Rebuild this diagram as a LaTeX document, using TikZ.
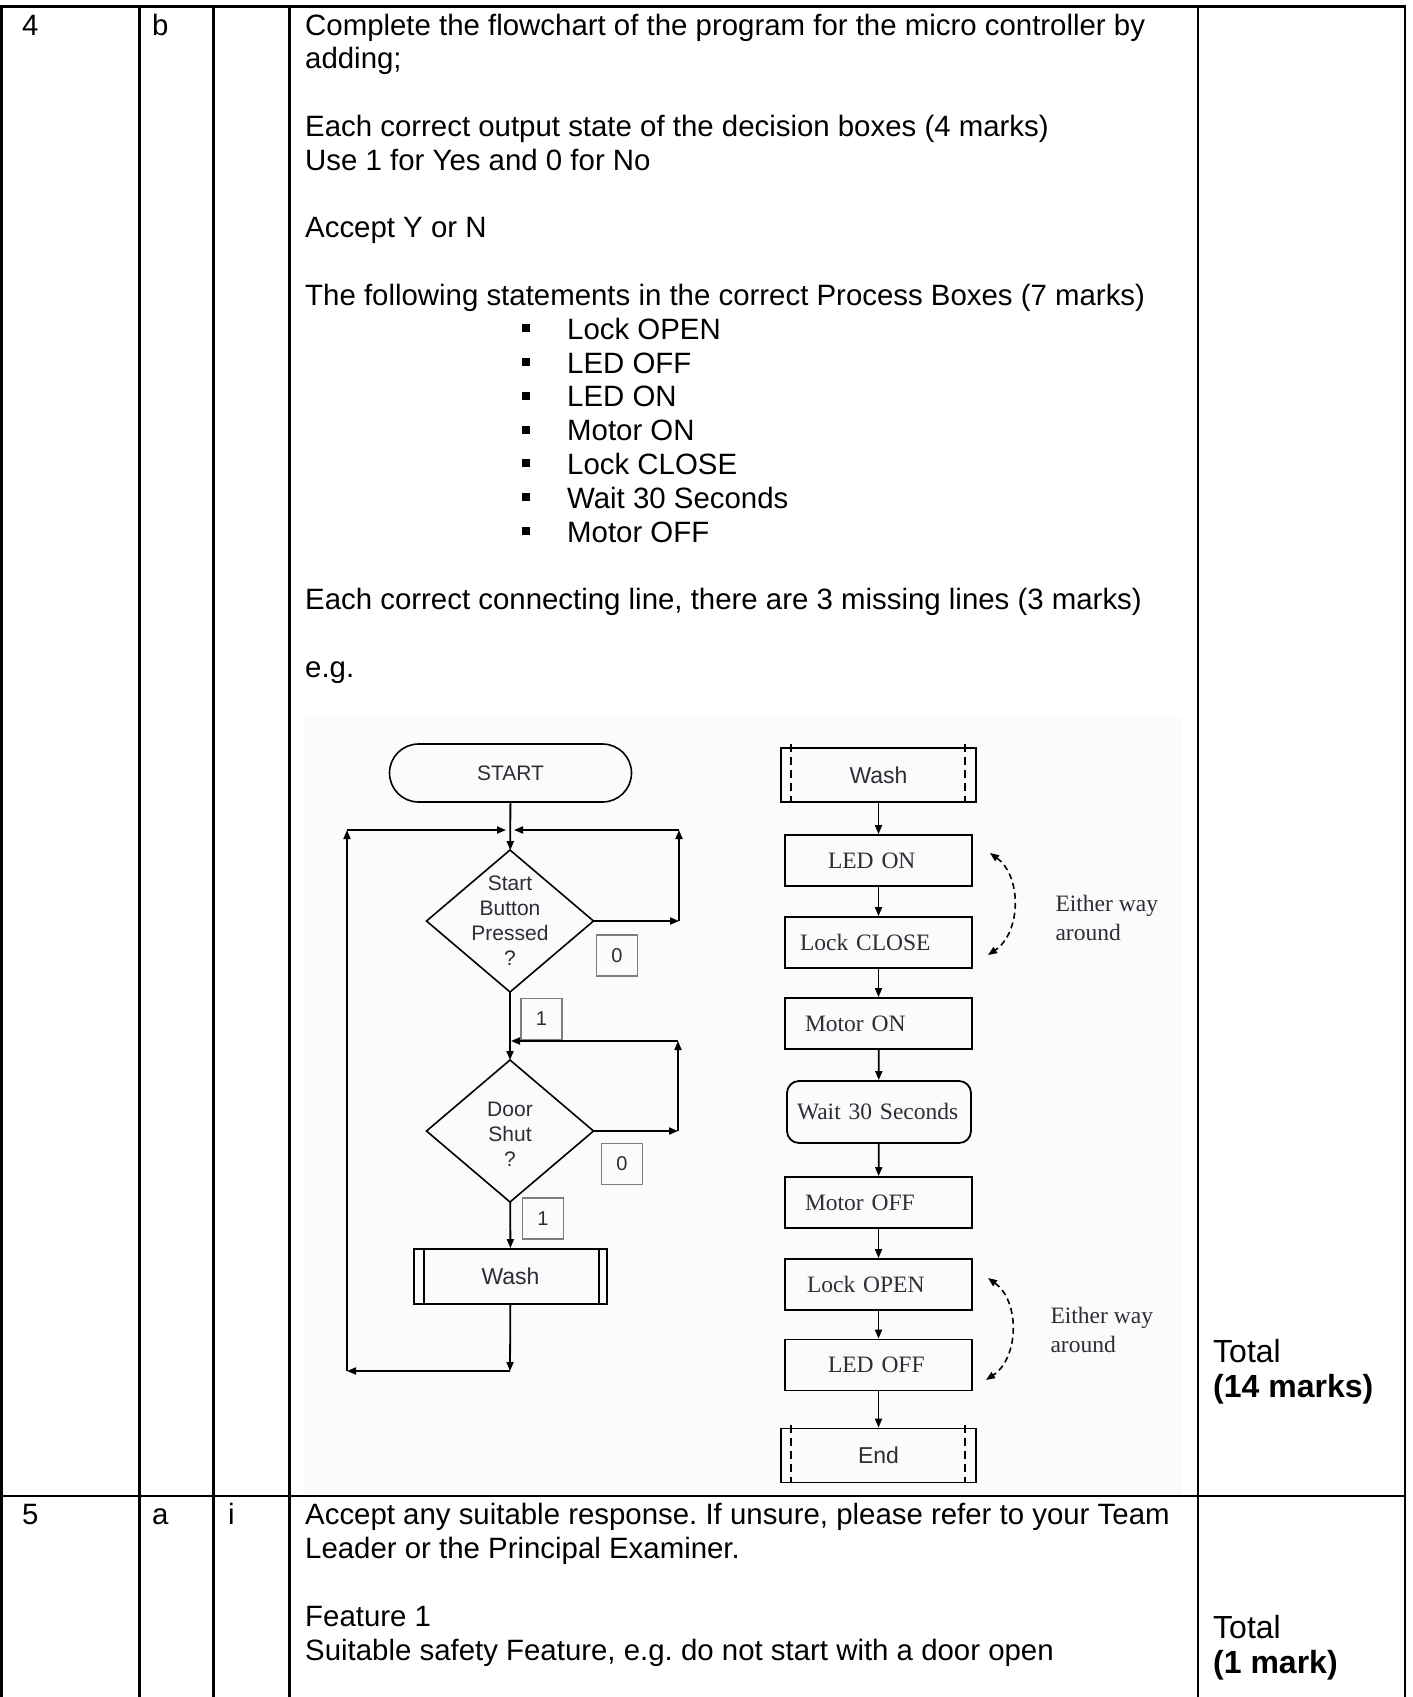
\documentclass[tikz,border=0pt]{standalone}
\usepackage{fontspec}
\setmainfont{Liberation Sans}
\newfontfamily\timesfont{Liberation Serif}
\usetikzlibrary{shapes.geometric, arrows.meta}
\frenchspacing

\definecolor{panelbg}{RGB}{250,251,250}
\definecolor{inkgray}{RGB}{45,45,55}
\definecolor{tagline}{RGB}{125,125,125}

\tikzset{
  tablerule/.style={line width=2.5pt},
  body/.style={anchor=base west, inner sep=0pt, font=\fontsize{29.4}{34}\selectfont},
  totals/.style={anchor=base west, inner sep=0pt, font=\fontsize{32}{34}\selectfont},
  flow/.style={line width=1.8pt, -{Triangle[length=9pt,width=7pt]}},
  either/.style={line width=1.6pt, dash pattern=on 6pt off 4pt, {Triangle[length=9pt,width=7pt]}-{Triangle[length=9pt,width=7pt]}},
  terminal/.style={draw, line width=1.6pt, rounded corners=29pt, minimum width=242pt, minimum height=58pt,
    text=inkgray, font=\fontsize{21}{24}\selectfont},
  decision/.style={diamond, draw, line width=1.6pt, minimum width=167pt, minimum height=142pt, inner sep=0pt, outer sep=0pt},
  dtext/.style={align=center, text=inkgray, font=\fontsize{21}{25}\selectfont},
  tag/.style={draw=tagline, line width=1.6pt, minimum width=41pt, minimum height=41pt, inner sep=0pt,
    text=inkgray, font=\fontsize{20}{24}\selectfont},
  subproc/.style={draw, line width=1.8pt, minimum width=193pt, minimum height=55pt, text=inkgray,
    font=\fontsize{23}{26}\selectfont},
  endbox/.style={draw, line width=1.8pt, minimum width=195pt, minimum height=54pt, text=inkgray,
    font=\fontsize{23}{26}\selectfont},
  proc/.style={draw, line width=1.8pt, text width=167pt, inner xsep=10pt, minimum height=51pt, align=left,
    text=inkgray, font=\timesfont\fontsize{23.5}{26}\selectfont},
  dashline/.style={line width=1.6pt, dash pattern=on 8pt off 5pt},
}

\begin{document}
\begin{tikzpicture}[x=1pt, y=-1pt]
  \useasboundingbox (0,0) rectangle (1413,1697);

  % panel behind the example flowchart
  \fill[panelbg] (305,718) rectangle (1182,1495);

  % table
  \draw[tablerule] (0,6.5) -- (1405,6.5);
  \draw[tablerule] (0,1496) -- (1405,1496);
  \foreach \cx in {1.3,139.7,213.7,289.7,1198,1405}
    \draw[tablerule] (\cx,5.3) -- (\cx,1697);

  % row 4 b
  \node[body] (q4) at (22,35) {4};
  \node[body] (q4b) at (152,35) {b};
  \foreach \n/\txt in {0/{Complete the flowchart of the program for the micro controller by},
      1/{adding;},
      3/{Each correct output state of the decision boxes (4 marks)},
      4/{Use 1 for Yes and 0 for No},
      6/{Accept Y or N},
      8/{The following statements in the correct Process Boxes (7 marks)},
      17/{Each correct connecting line, there are 3 missing lines (3 marks)},
      19/{e.g.}}
    \node[body] (line\n) at (305,35+33.8*\n) {\txt};
  \foreach \n/\txt in {9/Lock OPEN, 10/LED OFF, 11/LED ON, 12/Motor ON, 13/Lock CLOSE,
      14/Wait 30 Seconds, 15/Motor OFF} {
    \fill (522,35+33.8*\n-15) rectangle ++(8,8);
    \node[body] (item\n) at (567,35+33.8*\n) {\txt};
  }
  \node[totals] (tot4) at (1213,1362) {Total};
  \node[totals] (marks4) at (1213,1397) {\textbf{(14 marks)}};

  % row 5 a i
  \node[body] (q5) at (22,1524) {5};
  \node[body] (q5a) at (152,1524) {a};
  \node[body] (q5i) at (228,1524) {i};
  \node[body] (ans1) at (305,1524) {Accept any suitable response. If unsure, please refer to your Team};
  \node[body] (ans2) at (305,1558) {Leader or the Principal Examiner.};
  \node[body] (ans3) at (305,1626) {Feature 1};
  \node[body] (ans4) at (305,1660) {Suitable safety Feature, e.g. do not start with a door open};
  \node[totals] (tot5) at (1213,1638) {Total};
  \node[totals] (marks5) at (1213,1673) {\textbf{(1 mark)}};

  % left flowchart
  \node[terminal] (start) at (510.5,773) {START};
  \node[decision] (d1) at (510,921) {};
  \node[dtext] at (d1) {Start\\Button\\Pressed\\?};
  \node[decision] (d2) at (510,1131) {};
  \node[dtext] at ([yshift=-3pt]d2.center) {Door\\Shut\\?};
  \node[subproc] (wash1) at (510.5,1276.5) {Wash};
  \draw[line width=1.8pt] ([xshift=11pt]wash1.north west) -- ([xshift=11pt]wash1.south west);
  \draw[line width=1.8pt] ([xshift=-9pt]wash1.north east) -- ([xshift=-9pt]wash1.south east);

  \node[tag] (no1) at (617,955.5) {0};
  \node[tag] (yes1) at (541.5,1019) {1};
  \node[tag] (no2) at (622,1164) {0};
  \node[tag] (yes2) at (543,1218.5) {1};

  \coordinate (j1) at (510,830);
  \coordinate (j2) at (510,1041);
  \coordinate (r1b) at (679,921);
  \coordinate (r1t) at (679,830);
  \coordinate (r2b) at (678,1131);
  \coordinate (r2t) at (678,1041);
  \coordinate (lb) at (510,1371);
  \coordinate (ll) at (347,1371);
  \coordinate (lt) at (347,830);

  \draw[flow] (start) -- (d1);
  \draw[flow] (d1) -- (d2);
  \draw[flow] (d2) -- (wash1);
  \draw[flow] (d1.east) -- (r1b);
  \draw[flow] (r1b) -- (r1t);
  \draw[flow, shorten >=4pt] (r1t) -- (j1);
  \draw[flow] (d2.east) -- (r2b);
  \draw[flow] (r2b) -- (r2t);
  \draw[flow, shorten >=1pt] (r2t) -- (j2);
  \draw[flow] (wash1) -- (lb);
  \draw[flow] (lb) -- (ll);
  \draw[flow] (ll) -- (lt);
  \draw[flow, shorten >=4pt] (lt) -- (j1);

  % right flowchart
  \node[endbox] (wash2) at (878.5,775) {Wash};
  \node[proc] (ledon) at (878.5,860.5) {\hspace*{33pt}LED ON};
  \node[proc] (lockc) at (878.5,942.5) {\hspace*{5pt}Lock CLOSE};
  \node[proc] (motoron) at (878.5,1023.5) {\hspace*{10pt}Motor ON};
  \node[proc, rounded corners=12pt, text width=164pt, minimum height=62pt] (wait) at (879,1112) {Wait 30 Seconds};
  \node[proc] (motoroff) at (878.5,1202.5) {\hspace*{10pt}Motor OFF};
  \node[proc] (locko) at (878.5,1284.5) {\hspace*{12pt}Lock OPEN};
  \node[proc] (ledoff) at (878.5,1365) {\hspace*{33pt}LED OFF};
  \node[endbox] (endb) at (878.5,1455.5) {End};
  \foreach \b in {wash2,endb} {
    \draw[dashline] ([xshift=11pt,yshift=3pt]\b.north west) -- ([xshift=11pt]\b.south west);
    \draw[dashline] ([xshift=-12pt,yshift=3pt]\b.north east) -- ([xshift=-12pt]\b.south east);
  }

  \draw[flow] (wash2) -- (ledon);
  \draw[flow] (ledon) -- (lockc);
  \draw[flow] (lockc) -- (motoron);
  \draw[flow] (motoron) -- (wait);
  \draw[flow] (wait) -- (motoroff);
  \draw[flow] (motoroff) -- (locko);
  \draw[flow] (locko) -- (ledoff);
  \draw[flow] (ledoff) -- (endb);

  % either way around
  \coordinate (sw1a) at (990,853);
  \coordinate (sw1b) at (988,955);
  \coordinate (sw2a) at (988,1278);
  \coordinate (sw2b) at (986,1380);
  \draw[either] (sw1a) to[bend left=55] (sw1b);
  \draw[either] (sw2a) to[bend left=55] (sw2b);
  \node[anchor=west, align=left, text=inkgray, font=\timesfont\fontsize{23.5}{29}\selectfont] (way1) at (1052,918) {Either way\\around};
  \node[anchor=west, align=left, text=inkgray, font=\timesfont\fontsize{23.5}{29}\selectfont] (way2) at (1047,1330) {Either way\\around};
\end{tikzpicture}
\end{document}
